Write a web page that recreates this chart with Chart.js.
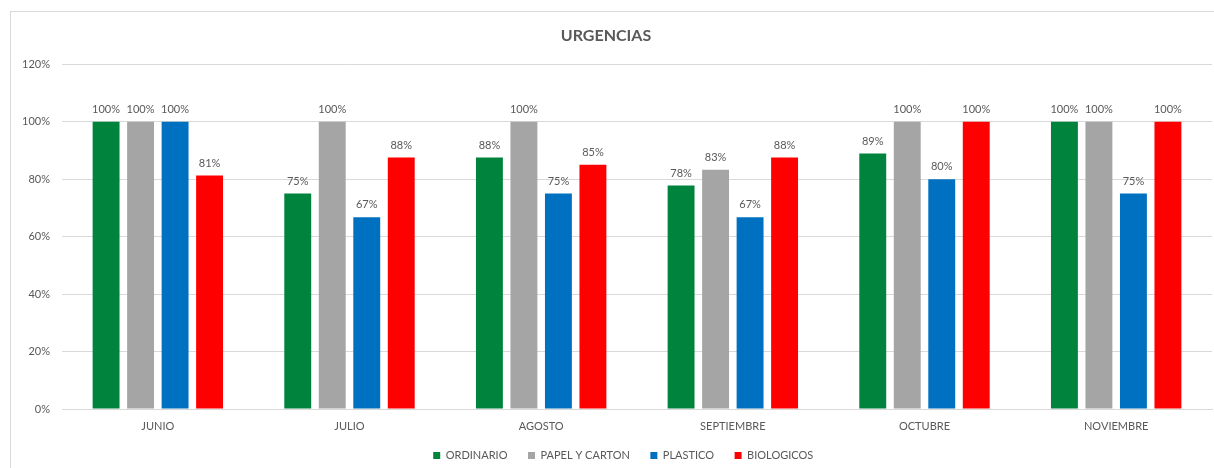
<!DOCTYPE html>
<html>
<head>
<meta charset="utf-8">
<script src="https://cdn.jsdelivr.net/npm/chart.js@4.4.1/dist/chart.umd.min.js"></script>
<style>
  html, body { margin: 0; padding: 0; background: #fff; }
  #wrap { position: relative; width: 1214px; height: 468px; overflow: hidden; }
  #frame { position: absolute; left: 10px; top: 11px; width: 1240px; height: 500px; border: 1px solid #d9d9d9; box-sizing: border-box; }
  canvas { position: absolute; left: 0; top: 0; }
</style>
</head>
<body>
<div id="wrap">
  <div id="frame"></div>
  <canvas id="c" width="1214" height="468"></canvas>
</div>
<script>
const categories = ["JUNIO", "JULIO", "AGOSTO", "SEPTIEMBRE", "OCTUBRE", "NOVIEMBRE"];
const ordinario = [100, 75, 87.5, 77.8, 88.9, 100];
const papelCarton = [100, 100, 100, 83.3, 100, 100];
const plastico = [100, 66.7, 75, 66.7, 80, 75];
const biologicos = [81.25, 87.5, 85, 87.5, 100, 100];
const yTicks = [0, 20, 40, 60, 80, 100, 120];

const FONT = "Lato, 'Open Sans', 'Liberation Sans', sans-serif";
const TXT = "#595959";

const labelPlugin = {
  id: 'barLabels',
  afterLayout(chart) {
    if (chart.legend) { chart.legend.left += 40; }
  },
  afterDatasetsDraw(chart) {
    const ctx = chart.ctx;
    ctx.save();
    ctx.font = "11px " + FONT;
    ctx.fillStyle = TXT;
    ctx.textAlign = "center";
    ctx.textBaseline = "bottom";
    chart.data.datasets.forEach((ds, i) => {
      const meta = chart.getDatasetMeta(i);
      meta.data.forEach((el, j) => {
        ctx.fillText(Math.round(ds.data[j]) + "%", el.x, el.y - 7);
      });
    });
    ctx.restore();
  }
};

new Chart(document.getElementById("c"), {
  type: "bar",
  data: {
    labels: categories,
    datasets: [
      { label: "ORDINARIO", data: ordinario, backgroundColor: "#00843D" },
      { label: "PAPEL Y CARTON", data: papelCarton, backgroundColor: "#A5A5A5" },
      { label: "PLASTICO", data: plastico, backgroundColor: "#0070C0" },
      { label: "BIOLOGICOS", data: biologicos, backgroundColor: "#FF0000" }
    ]
  },
  options: {
    responsive: false,
    animation: false,
    devicePixelRatio: 1,
    layout: { padding: { left: 0, right: 2, top: 0, bottom: -3 } },
    datasets: { bar: { categoryPercentage: 0.72, barPercentage: 0.78 } },
    plugins: {
      title: {
        display: true, text: "URGENCIAS", color: TXT,
        font: { family: FONT, size: 16, weight: "bold" },
        padding: { top: 26, bottom: 19 }
      },
      legend: {
        position: "bottom",
        labels: {
          color: TXT, boxWidth: 7, boxHeight: 7, padding: 15,
          font: { family: FONT, size: 11 },
          generateLabels(chart) {
            return Chart.defaults.plugins.legend.labels.generateLabels(chart)
              .map(l => Object.assign(l, { text: l.text + "\u2002" }));
          }
        }
      },
      tooltip: { enabled: false }
    },
    scales: {
      x: {
        afterFit(scale) { scale.height = 26; },
        grid: { display: false, drawTicks: false },
        border: { color: "#d9d9d9" },
        ticks: { color: TXT, font: { family: FONT, size: 11 }, padding: 11 }
      },
      y: {
        min: 0, max: 120,
        afterFit(scale) { scale.width = 62; },
        afterBuildTicks(scale) { scale.ticks = yTicks.map(v => ({ value: v })); },
        grid: { color: "#d9d9d9", drawTicks: false },
        border: { display: false },
        ticks: { color: TXT, font: { family: FONT, size: 11 }, padding: 12, callback: v => v + "%" }
      }
    }
  },
  plugins: [labelPlugin]
});
</script>
</body>
</html>
